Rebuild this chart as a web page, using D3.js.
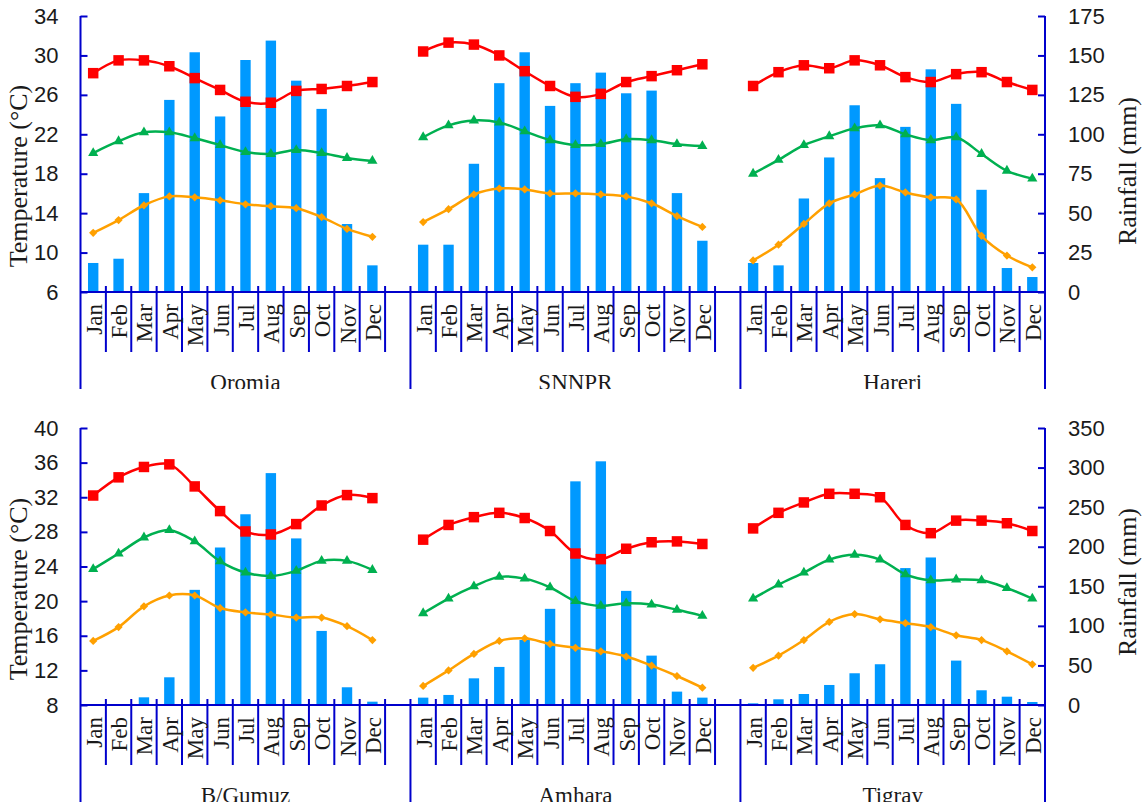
<!DOCTYPE html>
<html lang="en">
<head>
    <meta charset="UTF-8">
    <title>Monthly temperature and rainfall by region</title>
    <script src="https://d3js.org/d3.v7.min.js"></script>
    <style>
        body {
            margin: 0;
            background: #fff;
        }
        svg {
            display: block;
            font-family: "Liberation Serif", "Times New Roman", serif;
        }
        .tick text {
            font-size: 22px;
            fill: #1a1a1a;
        }
        .month-label {
            font-size: 23px;
            fill: #1a1a1a;
        }
        .region-label {
            font-size: 23px;
            fill: #1a1a1a;
        }
        .axis-title {
            font-size: 26px;
            fill: #1a1a1a;
        }
    </style>
</head>
<body>
    <svg width="1144" height="804"></svg>
    <script>
        // Categories
        const months = ["Jan", "Feb", "Mar", "Apr", "May", "Jun", "Jul", "Aug", "Sep", "Oct", "Nov", "Dec"];
        const topRegions = ["Oromia", "SNNPR", "Hareri"];
        const bottomRegions = ["B/Gumuz", "Amhara", "Tigray"];

        // Tick labels
        const tempTicksTop = [6, 10, 14, 18, 22, 26, 30, 34];
        const rainTicksTop = [0, 25, 50, 75, 100, 125, 150, 175];
        const tempTicksBottom = [8, 12, 16, 20, 24, 28, 32, 36, 40];
        const rainTicksBottom = [0, 50, 100, 150, 200, 250, 300, 350];

        // Oromia
        const oromiaMax  = [28.2, 29.5, 29.5, 28.9, 27.7, 26.5, 25.3, 25.2, 26.4, 26.6, 26.9, 27.3];
        const oromiaMean = [20.1, 21.3, 22.2, 22.2, 21.6, 20.9, 20.2, 20.0, 20.4, 20.1, 19.6, 19.3];
        const oromiaMin  = [12.0, 13.3, 14.8, 15.7, 15.6, 15.3, 14.9, 14.7, 14.5, 13.6, 12.4, 11.6];
        const oromiaRain = [18.4, 21.1, 62.7, 121.8, 152, 111.3, 147.1, 159.4, 134, 116.1, 43.1, 16.9];

        // SNNPR
        const snnprMax  = [30.4, 31.3, 31.1, 30.0, 28.4, 26.9, 25.8, 26.1, 27.3, 27.9, 28.5, 29.1];
        const snnprMean = [21.7, 22.9, 23.4, 23.2, 22.3, 21.4, 20.9, 21.0, 21.5, 21.4, 21.0, 20.8];
        const snnprMin  = [13.1, 14.4, 15.9, 16.5, 16.4, 16.0, 16.0, 15.9, 15.7, 15.0, 13.7, 12.6];
        const snnprRain = [30.0, 30.0, 81.3, 132.4, 152, 118, 132.4, 139.1, 126, 127.7, 62.7, 32.5];

        // Hareri
        const hareriMax  = [26.9, 28.3, 29.0, 28.7, 29.5, 29.0, 27.8, 27.3, 28.1, 28.3, 27.3, 26.5];
        const hareriMean = [18.0, 19.4, 20.9, 21.8, 22.6, 22.9, 22.0, 21.4, 21.7, 20.0, 18.3, 17.5];
        const hareriMin  = [9.2, 10.8, 12.9, 15.0, 15.9, 16.8, 16.1, 15.6, 15.4, 11.7, 9.7, 8.5];
        const hareriRain = [18.4, 16.9, 59.3, 85.3, 118.4, 72.2, 104.7, 141.2, 119.3, 64.8, 15.2, 9.5];

        // B/Gumuz
        const gumuzMax  = [32.2, 34.3, 35.5, 35.8, 33.25, 30.4, 28.05, 27.7, 28.9, 31.05, 32.25, 31.9];
        const gumuzMean = [23.7, 25.5, 27.35, 28.2, 26.9, 24.6, 23.3, 22.9, 23.5, 24.65, 24.65, 23.6];
        const gumuzMin  = [15.4, 17.0, 19.4, 20.65, 20.65, 19.2, 18.7, 18.45, 18.1, 18.1, 17.1, 15.5];
        const gumuzRain = [0, 0, 9.7, 35, 145.5, 199, 241, 293, 210.5, 93.6, 22.4, 4.2];

        // Amhara
        const amharaMax  = [27.1, 28.8, 29.7, 30.2, 29.6, 28.1, 25.5, 24.85, 26.05, 26.8, 26.9, 26.6];
        const amharaMean = [18.6, 20.3, 21.7, 22.8, 22.6, 21.6, 20.0, 19.45, 19.75, 19.6, 19.0, 18.3];
        const amharaMin  = [10.2, 12.0, 13.9, 15.4, 15.7, 15.05, 14.6, 14.2, 13.6, 12.55, 11.35, 10.0];
        const amharaRain = [9.3, 12.7, 33.7, 48.1, 82.2, 121.5, 282.6, 307.9, 144.2, 62.4, 16.9, 9.3];

        // Tigray
        const tigrayMax  = [28.4, 30.2, 31.4, 32.4, 32.4, 32.0, 28.8, 27.85, 29.3, 29.3, 29.0, 28.1];
        const tigrayMean = [20.3, 21.9, 23.3, 24.8, 25.35, 24.8, 23.1, 22.4, 22.5, 22.4, 21.5, 20.3];
        const tigrayMin  = [12.3, 13.7, 15.5, 17.6, 18.5, 17.9, 17.45, 17.0, 16.05, 15.5, 14.2, 12.7];
        const tigrayRain = [2.1, 7.2, 13.9, 25.3, 40.1, 51.5, 173, 186.4, 56.1, 18.6, 10.5, 3.8];

        const axisColor = "#0000CC";
        const barColor = "#0099FF";
        const series = [
            {key: "max", color: "#FF0000", symbol: d3.symbolSquare, size: 110, rotate: 0},
            {key: "mean", color: "#00B050", symbol: d3.symbolTriangle, size: 45, rotate: 0},
            {key: "min", color: "#FFA000", symbol: d3.symbolSquare, size: 34, rotate: 45}
        ];

        const panels = [
            {
                regions: topRegions,
                data: {
                    "Oromia": {max: oromiaMax, mean: oromiaMean, min: oromiaMin, rain: oromiaRain},
                    "SNNPR": {max: snnprMax, mean: snnprMean, min: snnprMin, rain: snnprRain},
                    "Hareri": {max: hareriMax, mean: hareriMean, min: hareriMin, rain: hareriRain}
                },
                tempTicks: tempTicksTop, rainTicks: rainTicksTop,
                top: 16, bottom: 292, clipTop: 0, clipBottom: 389,
                leftTitleY: 176, rightTitleY: 171
            },
            {
                regions: bottomRegions,
                data: {
                    "B/Gumuz": {max: gumuzMax, mean: gumuzMean, min: gumuzMin, rain: gumuzRain},
                    "Amhara": {max: amharaMax, mean: amharaMean, min: amharaMin, rain: amharaRain},
                    "Tigray": {max: tigrayMax, mean: tigrayMean, min: tigrayMin, rain: tigrayRain}
                },
                tempTicks: tempTicksBottom, rainTicks: rainTicksBottom,
                top: 428, bottom: 705, clipTop: 400, clipBottom: 802,
                leftTitleY: 589, rightTitleY: 582
            }
        ];

        const left = 80.5, right = 1045;
        const svg = d3.select("svg");
        const defs = svg.append("defs");

        panels.forEach((p, pi) => {
            defs.append("clipPath").attr("id", "clip" + pi)
                .append("rect")
                .attr("x", 0).attr("y", p.clipTop)
                .attr("width", 1144).attr("height", p.clipBottom - p.clipTop);

            const g = svg.append("g").attr("clip-path", `url(#clip${pi})`);

            // categories: 12 months per region, one blank slot between regions
            const keys = [];
            p.regions.forEach((r, i) => {
                months.forEach(m => keys.push(r + "|" + m));
                if (i < p.regions.length - 1) keys.push(r + "|");
            });

            const x = d3.scaleBand().domain(keys).range([left, right]);
            const bw = x.bandwidth();
            const barW = bw * 0.41;
            const yT = d3.scaleLinear()
                .domain([p.tempTicks[0], p.tempTicks[p.tempTicks.length - 1]])
                .range([p.bottom, p.top]);
            const yR = d3.scaleLinear()
                .domain([0, p.rainTicks[p.rainTicks.length - 1]])
                .range([p.bottom, p.top]);

            // Rainfall bars
            p.regions.forEach(r => {
                g.selectAll(null)
                    .data(months.map((m, i) => ({key: r + "|" + m, v: p.data[r].rain[i]})))
                    .enter().append("rect")
                    .attr("x", d => x(d.key) + (bw - barW) / 2)
                    .attr("y", d => yR(d.v))
                    .attr("width", barW)
                    .attr("height", d => p.bottom - yR(d.v))
                    .attr("fill", barColor);
            });

            // Temperature lines and markers
            const line = d3.line()
                .x(d => x(d.key) + bw / 2)
                .y(d => yT(d.v))
                .curve(d3.curveCatmullRom.alpha(0.5));

            p.regions.forEach(r => {
                series.forEach(s => {
                    const pts = months.map((m, i) => ({key: r + "|" + m, v: p.data[r][s.key][i]}));
                    g.append("path")
                        .datum(pts)
                        .attr("d", line)
                        .attr("fill", "none")
                        .attr("stroke", s.color)
                        .attr("stroke-width", 2.5);
                    g.selectAll(null)
                        .data(pts)
                        .enter().append("path")
                        .attr("d", d3.symbol().type(s.symbol).size(s.size))
                        .attr("transform", d => `translate(${x(d.key) + bw / 2},${yT(d.v)}) rotate(${s.rotate})`)
                        .attr("fill", s.color);
                });
            });

            // Left temperature axis
            const axL = g.append("g")
                .attr("transform", `translate(${left},0)`)
                .call(d3.axisLeft(yT).tickValues(p.tempTicks).tickSizeInner(-7).tickSizeOuter(0).tickPadding(22));
            axL.select(".domain").remove();
            axL.selectAll(".tick line").attr("stroke", axisColor).attr("stroke-width", 2);
            axL.selectAll(".tick text").attr("font-family", null).attr("font-size", null);

            // Right rainfall axis
            const axR = g.append("g")
                .attr("transform", `translate(${right},0)`)
                .call(d3.axisRight(yR).tickValues(p.rainTicks).tickSizeInner(-7).tickSizeOuter(0).tickPadding(23));
            axR.select(".domain").remove();
            axR.selectAll(".tick line").attr("stroke", axisColor).attr("stroke-width", 2);
            axR.selectAll(".tick text").attr("font-family", null).attr("font-size", null);

            // Vertical axis lines, running down through the label rows
            [left, right].forEach(xx => {
                g.append("line")
                    .attr("x1", xx).attr("x2", xx)
                    .attr("y1", p.top).attr("y2", p.bottom + 100)
                    .attr("stroke", axisColor).attr("stroke-width", 2);
            });

            // Category axis line
            g.append("line")
                .attr("x1", left).attr("x2", right)
                .attr("y1", p.bottom).attr("y2", p.bottom)
                .attr("stroke", axisColor).attr("stroke-width", 2);

            // Category boundaries: short ticks between months, long ones between regions
            const groupStarts = p.regions.map(r => r + "|" + months[0]);
            keys.slice(1).forEach(k => {
                const isGroup = groupStarts.includes(k);
                g.append("line")
                    .attr("x1", x(k)).attr("x2", x(k))
                    .attr("y1", p.bottom - 6)
                    .attr("y2", isGroup ? p.bottom + 100 : p.bottom + 60)
                    .attr("stroke", axisColor).attr("stroke-width", 2);
            });

            // Month labels
            p.regions.forEach(r => {
                g.selectAll(null)
                    .data(months)
                    .enter().append("text")
                    .attr("class", "month-label")
                    .attr("transform", m => `translate(${x(r + "|" + m) + bw / 2 + 1},${p.bottom + 12}) rotate(-90)`)
                    .attr("text-anchor", "end")
                    .attr("dominant-baseline", "central")
                    .text(m => m);
            });

            // Region labels
            p.regions.forEach((r, i) => {
                const x0 = x(groupStarts[i]);
                const x1 = i < p.regions.length - 1 ? x(groupStarts[i + 1]) : right;
                g.append("text")
                    .attr("class", "region-label")
                    .attr("x", (x0 + x1) / 2)
                    .attr("y", p.bottom + 98)
                    .attr("text-anchor", "middle")
                    .text(r);
            });

            // Axis titles
            g.append("text")
                .attr("class", "axis-title")
                .attr("transform", `translate(27,${p.leftTitleY}) rotate(-90)`)
                .attr("text-anchor", "middle")
                .text("Temperature (°C)");

            g.append("text")
                .attr("class", "axis-title")
                .attr("transform", `translate(1136,${p.rightTitleY}) rotate(-90)`)
                .attr("text-anchor", "middle")
                .text("Rainfall (mm)");
        });
    </script>
</body>
</html>
